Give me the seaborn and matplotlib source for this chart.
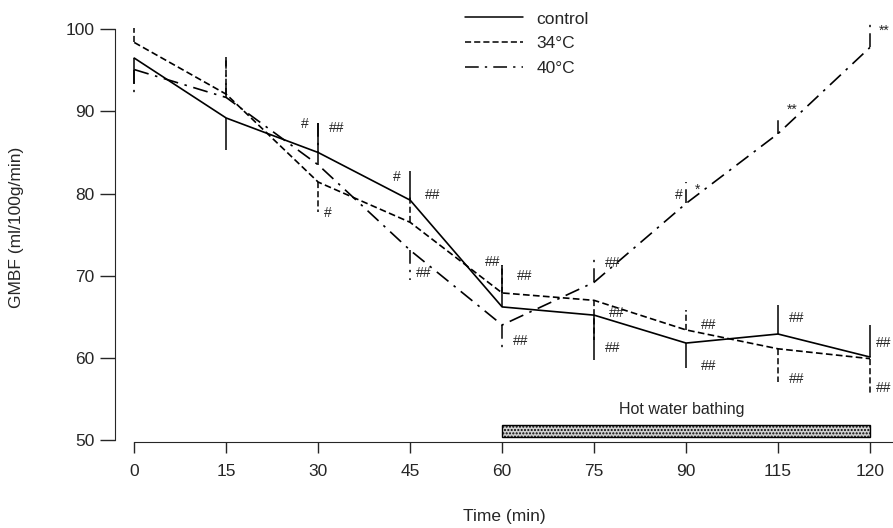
import numpy as np
import pandas as pd
import matplotlib
matplotlib.use("Agg")
import matplotlib.pyplot as plt
import seaborn as sns
from matplotlib.patches import Rectangle

# data (GMBF, ml/100g/min)
time_labels = ["0", "15", "30", "45", "60", "75", "90", "115", "120"]
groups = ["control", "34°C", "40°C"]

control = [96.5, 89.2, 85.0, 79.2, 66.2, 65.2, 61.8, 62.9, 60.1]
t34 = [98.4, 92.1, 81.4, 76.5, 67.9, 67.0, 63.4, 61.1, 59.9]
t40 = [95.1, 91.7, 83.5, 73.1, 64.0, 69.2, 78.8, 87.3, 97.8]

# one-sided SD bars (+1 = drawn up, -1 = drawn down)
control_sd = [3.1, 3.9, 3.6, 3.6, 5.1, 5.5, 3.0, 3.5, 3.9]
control_dir = [-1, -1, 1, 1, 1, -1, -1, 1, 1]
t34_sd = [1.8, 4.4, 3.7, 3.1, 3.4, 4.8, 2.4, 4.0, 4.4]
t34_dir = [1, 1, -1, 1, 1, -1, 1, -1, -1]
t40_sd = [3.5, 4.9, 5.1, 3.6, 2.8, 2.9, 2.6, 2.0, 2.9]
t40_dir = [-1, 1, 1, -1, -1, 1, 1, 1, 1]

# significance marks: (time index, value, text)
marks = [
    (1.85, 88.5, "#"), (2.2, 88.0, "##"), (2.1, 77.6, "#"),
    (2.85, 82.0, "#"), (3.25, 79.8, "##"), (3.15, 70.3, "##"),
    (3.9, 71.7, "##"), (4.25, 70.0, "##"), (4.2, 62.0, "##"),
    (5.2, 71.6, "##"), (5.25, 65.5, "##"), (5.2, 61.2, "##"),
    (5.92, 79.8, "#"), (6.12, 80.5, "*"), (6.25, 64.0, "##"), (6.25, 59.0, "##"),
    (7.15, 90.2, "**"), (7.2, 64.8, "##"), (7.2, 57.4, "##"),
    (8.15, 99.8, "**"), (8.15, 61.8, "##"), (8.15, 56.3, "##"),
]

df = pd.DataFrame({
    "pos": list(range(len(time_labels))) * 3,
    "GMBF": control + t34 + t40,
    "group": np.repeat(groups, len(time_labels)),
})

sns.set_style("ticks")
plt.rcParams["font.family"] = ["Liberation Sans", "DejaVu Sans"]

fig = plt.figure(figsize=(8.93, 5.28), dpi=100)
ax = fig.add_axes([0.129, 0.1636, 0.871, 0.812])

dash_map = {"control": "", "34°C": (4, 2), "40°C": (9, 4, 1.5, 4)}
sns.lineplot(data=df, x="pos", y="GMBF", style="group", dashes=dash_map,
             color="black", linewidth=1.2, ax=ax, legend=True)

styles = {"control": "-", "34°C": (0, (4, 2)), "40°C": (0, (9, 4, 1.5, 4))}
for g, vals, sd, dr in [("control", control, control_sd, control_dir),
                        ("34°C", t34, t34_sd, t34_dir),
                        ("40°C", t40, t40_sd, t40_dir)]:
    x = np.arange(len(vals))
    ends = np.array(vals) + np.array(sd) * np.array(dr)
    ax.vlines(x, vals, ends, colors="black", linestyles=styles[g],
              linewidth=1.1, clip_on=False)

for xi, yi, txt in marks:
    ax.text(xi, yi, txt, fontsize=10, ha="center", va="center")

# hot water bathing bar
ax.add_patch(Rectangle((4, 50.4), 4, 1.4, facecolor="#d0d0d0",
                       edgecolor="black", linewidth=1.0, hatch="....."))
ax.text(5.95, 53.7, "Hot water bathing", fontsize=11.5, ha="center", va="center")

ax.set_xlim(-0.207, 8.25)
ax.set_ylim(49.8, 102)
ax.set_xticks(range(len(time_labels)))
ax.set_xticklabels(time_labels)
ax.set_yticks([50, 60, 70, 80, 90, 100])
sns.despine(ax=ax)
ax.spines["left"].set_bounds(50, 100)
ax.spines["bottom"].set_bounds(0, 8.25)
ax.tick_params(axis="y", length=11, width=1, labelsize=12.5, pad=4)
ax.tick_params(axis="x", length=8, width=1, labelsize=12.5, pad=8)
ax.set_xlabel("Time (min)", fontsize=12.5, labelpad=22)
ax.set_ylabel("GMBF (ml/100g/min)", fontsize=12.5, labelpad=30)

leg = ax.legend(loc="upper left", bbox_to_anchor=(0.43, 1.04), frameon=False,
                fontsize=12.5, handlelength=3.3, labelspacing=0.55)
for line in leg.get_lines():
    line.set_color("black")
    line.set_linewidth(1.1)

fig.savefig("out.png", dpi=100)
